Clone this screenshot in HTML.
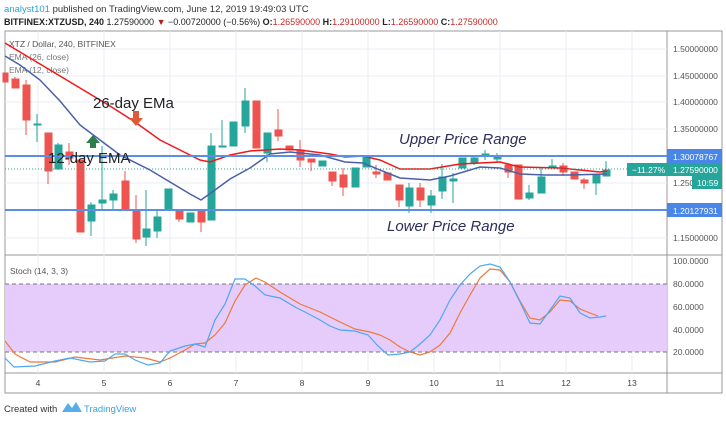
<!DOCTYPE html><html><head><meta charset="utf-8"><style>
body{margin:0;width:726px;height:420px;background:#fff;overflow:hidden;font-family:"Liberation Sans",sans-serif}
</style></head><body>
<svg width="726" height="420" xmlns="http://www.w3.org/2000/svg" font-family="Liberation Sans, sans-serif">
<text x="4" y="12" font-size="9.5" fill="#333"><tspan fill="#2aa2d6">analyst101</tspan> published on TradingView.com, June 12, 2019 19:49:03 UTC</text>
<text x="4" y="25" font-size="9" fill="#222" font-weight="bold">BITFINEX:XTZUSD, 240 <tspan font-weight="normal">1.27590000 </tspan><tspan fill="#b71c1c">▼</tspan><tspan font-weight="normal"> −0.00720000 (−0.56%) </tspan>O:<tspan fill="#c62828" font-weight="normal">1.26590000</tspan> H:<tspan fill="#c62828" font-weight="normal">1.29100000</tspan> L:<tspan fill="#c62828" font-weight="normal">1.26590000</tspan> C:<tspan fill="#c62828" font-weight="normal">1.27590000</tspan></text>
<rect x="5" y="31" width="717" height="362" fill="none" stroke="#999"/>
<line x1="667" y1="31" x2="667" y2="393" stroke="#999"/>
<line x1="5" y1="255" x2="722" y2="255" stroke="#999"/>
<line x1="5" y1="373" x2="722" y2="373" stroke="#999"/>
<g stroke="#e8eef4">
<line x1="5" y1="49" x2="667" y2="49"/><line x1="5" y1="76" x2="667" y2="76"/><line x1="5" y1="102" x2="667" y2="102"/><line x1="5" y1="129" x2="667" y2="129"/><line x1="5" y1="183" x2="667" y2="183"/><line x1="5" y1="238" x2="667" y2="238"/>
<line x1="38" y1="31" x2="38" y2="373"/><line x1="104" y1="31" x2="104" y2="373"/><line x1="170" y1="31" x2="170" y2="373"/><line x1="236" y1="31" x2="236" y2="373"/><line x1="302" y1="31" x2="302" y2="373"/><line x1="368" y1="31" x2="368" y2="373"/><line x1="434" y1="31" x2="434" y2="373"/><line x1="500" y1="31" x2="500" y2="373"/><line x1="566" y1="31" x2="566" y2="373"/><line x1="632" y1="31" x2="632" y2="373"/>
</g>
<g font-size="8.5" fill="#555">
<text x="673" y="52">1.50000000</text><text x="673" y="79">1.45000000</text><text x="673" y="105">1.40000000</text><text x="673" y="132">1.35000000</text><text x="673" y="241">1.15000000</text><text x="673" y="186">1.25000000</text>
</g>
<text x="9" y="47" font-size="8.5" fill="#555">XTZ / Dollar, 240, BITFINEX</text>
<text x="9" y="60" font-size="8.5" fill="#777">EMA (26, close)</text>
<text x="9" y="73" font-size="8.5" fill="#777">EMA (12, close)</text>
<g stroke-width="1">
<g stroke="#ef5350" fill="#ef5350">
<line x1="5" y1="73" x2="5" y2="82"/><rect x="3" y="73" width="5" height="9"/>
<line x1="15" y1="77" x2="15" y2="88"/><rect x="12" y="79" width="7" height="9"/>
<line x1="26" y1="80" x2="26" y2="135"/><rect x="23" y="85" width="7" height="35"/>
<line x1="48" y1="133" x2="48" y2="184"/><rect x="45" y="133" width="7" height="38"/>
<line x1="69" y1="143" x2="69" y2="165"/><rect x="66" y="152" width="7" height="6"/>
<line x1="80" y1="160" x2="80" y2="232"/><rect x="77" y="160" width="7" height="72"/>
<line x1="125" y1="171" x2="125" y2="210"/><rect x="122" y="181" width="7" height="29"/>
<line x1="136" y1="195" x2="136" y2="243"/><rect x="133" y="210" width="7" height="29"/>
<line x1="179" y1="210" x2="179" y2="222"/><rect x="176" y="210" width="7" height="9"/>
<line x1="201" y1="210" x2="201" y2="232"/><rect x="198" y="210" width="7" height="12"/>
<rect x="253" y="101" width="7" height="47"/>
<line x1="278" y1="109" x2="278" y2="141"/><rect x="275" y="130" width="7" height="6"/>
<rect x="286" y="146" width="7" height="4"/>
<line x1="300" y1="140" x2="300" y2="167"/><rect x="297" y="150" width="7" height="10"/>
<line x1="311" y1="159" x2="311" y2="171"/><rect x="308" y="159" width="7" height="3"/>
<line x1="332" y1="172" x2="332" y2="186"/><rect x="329" y="172" width="7" height="9"/>
<line x1="343" y1="168" x2="343" y2="196"/><rect x="340" y="175" width="7" height="12"/>
<line x1="376" y1="165" x2="376" y2="178"/><rect x="373" y="172" width="7" height="2"/>
<rect x="384" y="173" width="7" height="7"/>
<line x1="399" y1="185" x2="399" y2="207"/><rect x="396" y="185" width="7" height="15"/>
<line x1="420" y1="183" x2="420" y2="207"/><rect x="417" y="188" width="7" height="12"/>
<line x1="508" y1="163" x2="508" y2="178"/><rect x="505" y="165" width="7" height="7"/>
<rect x="515" y="165" width="7" height="34"/>
<line x1="563" y1="163" x2="563" y2="176"/><rect x="560" y="166" width="7" height="6"/>
<rect x="571" y="172" width="7" height="7"/>
<line x1="584" y1="178" x2="584" y2="189"/><rect x="581" y="180" width="7" height="3"/>
</g>
<g stroke="#26a69a" fill="#26a69a">
<line x1="37" y1="114" x2="37" y2="142"/><rect x="34" y="124" width="7" height="1"/>
<line x1="58" y1="143" x2="58" y2="170"/><rect x="55" y="145" width="7" height="24"/>
<line x1="91" y1="202" x2="91" y2="236"/><rect x="88" y="205" width="7" height="16"/>
<line x1="102" y1="146" x2="102" y2="210"/><rect x="99" y="200" width="7" height="3"/>
<line x1="113" y1="190" x2="113" y2="210"/><rect x="110" y="194" width="7" height="6"/>
<line x1="146" y1="190" x2="146" y2="246"/><rect x="143" y="229" width="7" height="8"/>
<line x1="157" y1="210" x2="157" y2="238"/><rect x="154" y="217" width="7" height="14"/>
<rect x="165" y="189" width="7" height="21"/>
<rect x="187" y="213" width="7" height="9"/>
<line x1="211" y1="133" x2="211" y2="220"/><rect x="208" y="146" width="7" height="74"/>
<line x1="222" y1="120" x2="222" y2="147"/><rect x="219" y="146" width="7" height="1"/>
<rect x="230" y="122" width="7" height="24"/>
<line x1="245" y1="88" x2="245" y2="133"/><rect x="242" y="101" width="7" height="25"/>
<line x1="267" y1="133" x2="267" y2="162"/><rect x="264" y="133" width="7" height="20"/>
<rect x="319" y="161" width="7" height="5"/>
<rect x="352" y="168" width="7" height="19"/>
<rect x="363" y="157" width="7" height="10"/>
<line x1="409" y1="183" x2="409" y2="213"/><rect x="406" y="188" width="7" height="18"/>
<line x1="431" y1="190" x2="431" y2="213"/><rect x="428" y="196" width="7" height="9"/>
<line x1="442" y1="164" x2="442" y2="199"/><rect x="439" y="177" width="7" height="14"/>
<line x1="453" y1="173" x2="453" y2="203"/><rect x="450" y="179" width="7" height="2"/>
<rect x="459" y="158" width="7" height="10"/>
<line x1="474" y1="155" x2="474" y2="165"/><rect x="471" y="158" width="7" height="5"/>
<line x1="485" y1="150" x2="485" y2="160"/><rect x="482" y="154" width="7" height="1"/>
<line x1="497" y1="153" x2="497" y2="163"/><rect x="494" y="156" width="7" height="3"/>
<line x1="529" y1="185" x2="529" y2="200"/><rect x="526" y="193" width="7" height="5"/>
<line x1="541" y1="167" x2="541" y2="193"/><rect x="538" y="177" width="7" height="16"/>
<line x1="552" y1="159" x2="552" y2="168"/><rect x="549" y="166" width="7" height="2"/>
<line x1="596" y1="175" x2="596" y2="195"/><rect x="593" y="175" width="7" height="8"/>
<line x1="606" y1="161" x2="606" y2="176"/><rect x="603" y="170" width="7" height="6"/>
</g></g>
<polyline fill="none" stroke="#f01818" stroke-width="1.5" points="5,43 20,52 50,70 80,88 110,106 135,122 160,140 180,150 200,160 210,162 230,155 250,151 280,149 300,150 330,154 345,157 363,156 380,160 400,169 430,169 460,164 500,162 520,167 560,168 600,172 607,171"/>
<polyline fill="none" stroke="#4b5fa8" stroke-width="1.5" points="5,56 20,65 40,80 60,101 80,125 100,140 120,155 150,170 170,182 190,194 201,200 215,190 230,179 250,168 270,154 290,152 320,155 345,162 363,163 385,172 400,178 430,180 450,176 480,167 500,168 520,174 545,175 570,175 607,174"/>
<line x1="5" y1="156" x2="667" y2="156" stroke="#5b8ee6" stroke-width="2"/>
<line x1="5" y1="210" x2="667" y2="210" stroke="#5b8ee6" stroke-width="2"/>
<line x1="5" y1="169" x2="667" y2="169" stroke="#26a69a" stroke-dasharray="1,2"/>
<polygon points="86,143 93,135 100,143" fill="#2e7d4f"/><rect x="90" y="143" width="6" height="5" fill="#2e7d4f"/>
<polygon points="129,118 136,126 143,118" fill="#e05a3a"/><rect x="133" y="111" width="6" height="7" fill="#e05a3a"/>
<text x="93" y="108" font-size="15" fill="#222">26-day EMa</text>
<text x="48" y="163" font-size="15" fill="#222">12-day EMA</text>
<text x="399" y="144" font-size="15" font-style="italic" fill="#2d2d5a">Upper Price Range</text>
<text x="387" y="231" font-size="15" font-style="italic" fill="#2d2d5a">Lower Price Range</text>
<rect x="667" y="149" width="55" height="14" fill="#4a86e8"/><text x="673" y="160" font-size="8.5" fill="#fff">1.30078767</text>
<rect x="667" y="203" width="55" height="14" fill="#4a86e8"/><text x="673" y="214" font-size="8.5" fill="#fff">1.20127931</text>
<rect x="627" y="163" width="40" height="13" fill="#26a69a"/><text x="632" y="173" font-size="8.5" fill="#fff">−11.27%</text>
<rect x="667" y="163" width="55" height="13" fill="#26a69a"/><text x="673" y="173" font-size="8.5" fill="#fff">1.27590000</text>
<rect x="692" y="176" width="30" height="13" fill="#26a69a"/><text x="697" y="186" font-size="8.5" fill="#fff">10:59</text>
<rect x="5" y="284" width="662" height="68" fill="#e6ccfb"/>
<line x1="5" y1="284" x2="667" y2="284" stroke="#777" stroke-dasharray="4,3"/>
<line x1="5" y1="352" x2="667" y2="352" stroke="#777" stroke-dasharray="4,3"/>
<text x="10" y="274" font-size="8.5" fill="#555">Stoch (14, 3, 3)</text>
<g font-size="8.5" fill="#555"><text x="673" y="264">100.0000</text><text x="673" y="287">80.0000</text><text x="673" y="310">60.0000</text><text x="673" y="333">40.0000</text><text x="673" y="355">20.0000</text></g>
<polyline fill="none" stroke="#f07838" stroke-width="1.2" points="5,341 15,354 30,362 55,362 75,357 100,360 125,356 145,358 160,362 170,358 185,350 195,344 205,343 215,335 225,323 235,301 245,285 256,278 265,282 280,292 300,304 320,312 340,322 355,329 370,332 380,335 390,340 400,347 410,352 420,355 430,352 440,345 450,333 460,313 470,295 480,278 490,269 500,270 510,282 520,301 530,318 540,320 550,312 560,300 570,301 580,309 590,313 598,316"/>
<polyline fill="none" stroke="#4ea6f5" stroke-width="1.2" points="5,358 14,367 35,366 55,361 70,358 90,362 105,361 115,354 125,354 135,360 148,365 160,363 170,351 185,346 195,344 205,347 215,320 225,304 235,279 245,279 255,286 265,295 280,298 295,307 305,312 320,320 330,326 340,330 355,331 368,335 378,346 388,355 400,354 410,352 420,344 430,335 440,320 450,300 460,285 470,274 480,266 490,264 500,267 510,282 520,302 530,323 540,324 550,310 560,296 570,298 580,313 590,318 600,317 606,316"/>
<g font-size="8.5" fill="#444" text-anchor="middle"><text x="38" y="386">4</text><text x="104" y="386">5</text><text x="170" y="386">6</text><text x="236" y="386">7</text><text x="302" y="386">8</text><text x="368" y="386">9</text><text x="434" y="386">10</text><text x="500" y="386">11</text><text x="566" y="386">12</text><text x="632" y="386">13</text></g>
<text x="4" y="412" font-size="9.5" fill="#333">Created with</text>
<polygon points="62,412 68,403 72,408 76,402 82,412" fill="#5aaee8"/>
<text x="84" y="412" font-size="9.5" fill="#3aa0e0">TradingView</text>
</svg></body></html>
